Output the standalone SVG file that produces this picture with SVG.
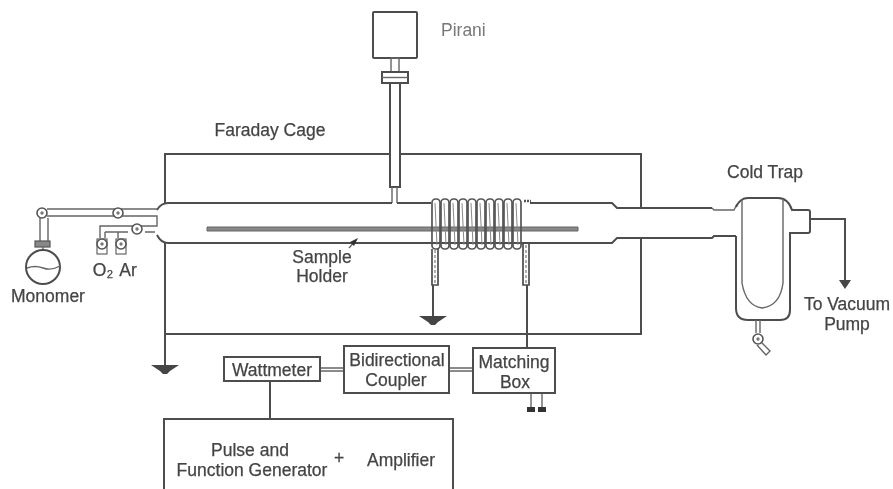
<svg xmlns="http://www.w3.org/2000/svg" width="893" height="489" viewBox="0 0 893 489">
<defs>
<filter id="blur" x="-5%" y="-5%" width="110%" height="110%"><feGaussianBlur stdDeviation="0.6"/></filter>
<g id="valve"><circle r="5" fill="#fff" stroke="#555" stroke-width="1.600"/><circle r="1.700" fill="#777"/></g>
<g id="ground"><path d="M-14 0H14L5 6 2 9H-2L-5 6Z" fill="#444"/></g>
<g id="loop"><rect width="8" height="50" rx="3.500" fill="none" stroke="#555" stroke-width="1.700"/><path d="M3 4L5 46" stroke="#888" stroke-width="1"/></g>
<g id="gasvalve"><rect x="-5" y="-5" width="10" height="15" fill="#fff" stroke="#666" stroke-width="1.200"/><use href="#valve"/></g>
</defs>
<style>
text{font-family:"Liberation Sans",Arial,sans-serif;fill:#444;stroke:#444;stroke-width:.25;font-size:17.500px;text-anchor:middle}
.l{fill:none;stroke:#4d4d4d;stroke-width:2}
.t{fill:none;stroke:#666;stroke-width:1.400}
.b{fill:#fff;stroke:#4d4d4d;stroke-width:2}
</style>
<rect width="893" height="489" fill="#fff"/>
<g filter="url(#blur)">
<g id="connectors">
<path class="l" d="M165 203V154H390M400 154H641V208M641 238V334H165V243"/>
<path class="l" d="M165 334V365"/>
<path class="l" d="M433 285V316"/>
<path class="l" d="M527 285V348"/>
<path class="t" d="M320 368H344M320 371H344"/>
<path class="t" d="M449 368H473M449 371H473"/>
<path class="l" d="M270 381V419"/>
<path class="t" d="M531 393V407M542 393V407"/>
<path class="l" d="M810 219H845V281"/>
<path d="M839 280H851L845 289Z" fill="#444"/>
</g>
<g id="pirani">
<rect class="b" x="373" y="12" width="44" height="46" rx="1"/>
<rect class="t" x="391" y="58" width="8" height="14"/>
<rect class="b" x="382" y="72" width="26" height="11"/>
<path class="t" d="M382 77.500H408"/>
<path class="l" d="M390 83V187H400V83"/>
<path class="t" d="M392 187V203M397 187V203"/>
</g>
<g id="tube">
<path class="l" d="M392 203H168Q161 203 157 210M157 235Q161 243 168 243H612L617 238H712L714 236H736"/>
<path class="l" d="M397 203H431M530 203H612L617 208H712"/>
<path class="t" d="M712 208L714 210H734L737 204" stroke="#888"/>
</g>
<g id="sample-holder">
<path fill="#888" stroke="#666" stroke-width="1" d="M207 227H578V231H207Z"/>
<path class="t" d="M349 248L356 240"/>
<path d="M358 238L350 242 354 246Z" fill="#333"/>
<text x="322" y="263">Sample</text>
<text x="322" y="282">Holder</text>
</g>
<g id="coil">
<use href="#loop" x="432" y="199"/>
<use href="#loop" x="441" y="199"/>
<use href="#loop" x="450" y="199"/>
<use href="#loop" x="459" y="199"/>
<use href="#loop" x="468" y="199"/>
<use href="#loop" x="477" y="199"/>
<use href="#loop" x="486" y="199"/>
<use href="#loop" x="495" y="199"/>
<use href="#loop" x="504" y="199"/>
<use href="#loop" x="513" y="199"/>
<path d="M432 249V285H438V249M523 243V285H529V243" fill="none" stroke="#4d4d4d" stroke-width="1.700"/>
<path d="M435 250V284M526 245V284" fill="none" stroke="#777" stroke-dasharray="3 2" stroke-width="1.200"/>
<path d="M524 201H531" stroke="#555" stroke-width="2.500" stroke-dasharray="2 1"/>
</g>
<g id="gas-inlets">
<path class="t" d="M47 209H157M47 216H157V226H100V238M105 232H128M145 232H155M105 232V238M118 232V238"/>
<path class="t" d="M40 218V241M48 218V241"/>
<use href="#valve" x="42" y="213"/>
<use href="#valve" x="118" y="213"/>
<use href="#valve" x="137" y="229"/>
<use id="valve-o2" href="#gasvalve" x="102" y="244"/>
<use id="valve-ar" href="#gasvalve" x="121" y="244"/>
<text x="103" y="276">O₂</text>
<text x="128" y="276">Ar</text>
</g>
<g id="monomer">
<rect x="35" y="241" width="15" height="6" fill="#888" stroke="#555" stroke-width="1.200"/>
<path class="t" d="M43 247V250"/>
<circle cx="43" cy="267" r="17" class="b"/>
<path class="t" d="M27 268Q35 265 43 268T60 266"/>
<text x="48" y="302">Monomer</text>
</g>
<g id="cold-trap">
<path class="l" d="M736 236V308Q736 320 748 320H780Q790 320 790 310V233H808Q810 233 810 231V212Q810 210 808 210H792Q788 198 778 198H748Q740 198 736 207" fill="#fff"/>
<path class="t" d="M742 199V283Q746 306 762 308Q780 306 783 283V199"/>
<path class="t" d="M756 320V333M760 320V333"/>
<use href="#valve" x="758" y="339"/>
<path class="t" d="M761 342L770 351L766 355L757 345"/>
<text x="765" y="178">Cold Trap</text>
<text x="847" y="310">To Vacuum</text>
<text x="847" y="330">Pump</text>
</g>
<text x="441" y="36" style="text-anchor:start;fill:#777;stroke:none">Pirani</text>
<text x="270" y="136">Faraday Cage</text>
<use id="ground-cage" href="#ground" x="165" y="365"/>
<use id="ground-coil" href="#ground" x="433" y="316"/>
<g id="wattmeter"><rect class="b" x="224" y="357" width="96" height="24"/><text x="272" y="376">Wattmeter</text></g>
<g id="coupler"><rect class="b" x="344" y="346" width="105" height="47"/><text x="397" y="366">Bidirectional</text><text x="396" y="386">Coupler</text></g>
<g id="matching-box"><rect class="b" x="473" y="348" width="82" height="45"/><text x="514" y="368">Matching</text><text x="515" y="388">Box</text></g>
<g id="feet"><rect x="527" y="407" width="8" height="5" fill="#333"/><rect x="538" y="407" width="8" height="5" fill="#333"/></g>
<g id="generator"><path class="l" d="M164 489V419H453V489"/><text x="250" y="456">Pulse and</text><text x="252" y="476">Function Generator</text><text x="339" y="464">+</text><text x="401" y="466">Amplifier</text></g>
</g>
</svg>
